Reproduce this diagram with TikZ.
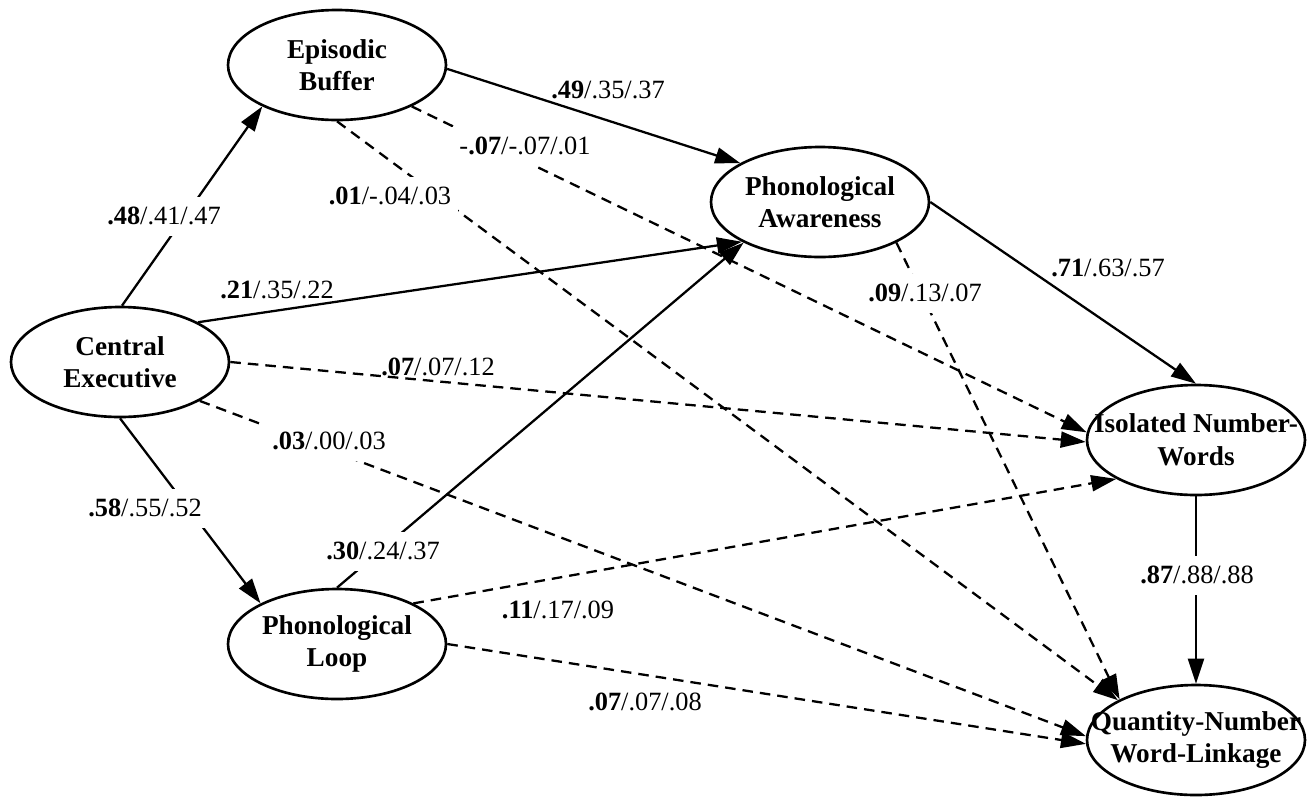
\documentclass[tikz,border=0pt]{standalone}
\usepackage{fontspec}
\setmainfont{Liberation Serif}
\usetikzlibrary{shapes.geometric,arrows.meta}
\begin{document}
\begin{tikzpicture}[x=0.2mm,y=-0.2mm,font=\fontsize{15}{18.5}\selectfont,
    var/.style={ellipse,draw,line width=1.5pt,minimum width=4.36cm,minimum height=2.2cm,inner xsep=-1.5cm,inner ysep=0pt,align=center,font=\fontsize{15.5}{18.5}\selectfont\bfseries},
    eff/.style={line width=1.3pt,-{Triangle[length=5mm,width=3.2mm]}},
    weak/.style={eff,dash pattern=on 6pt off 4pt},
    coef/.style={fill=white,inner xsep=4pt,inner ysep=6pt},
    coefline/.style={inner sep=1pt}]
  \useasboundingbox (0,0) rectangle (1309,796);
  \foreach \n/\x/\y/\t in {eb/337/65/{Episodic\\Buffer},ce/120/362/{Central\\Executive},pa/820/202/{Phonological\\Awareness},pl/337/644/{Phonological\\Loop},inw/1196/440/{Isolated Number-\\Words},qnw/1196/740/{Quantity-Number\\Word-Linkage}}{
    \node [var] (\n) at (\x,\y) {\t};
  }
  \foreach \a/\b/\s in {ce.88/eb.209/eff,ce.270/pl.152/eff,ce.27/pa.207/eff,eb.358/pa.154/eff,pl.90/pa.208/eff,pa.0/inw.90/eff,inw.270/qnw.90/eff,ce.0/inw.181/weak,ce.334/qnw.178/weak,eb.331/inw.176/weak,eb.270/qnw.153/weak,pa.332/qnw.152/weak,pl.28/inw.206/weak,pl.0/qnw.182/weak}{
    \draw[\s] (\a) -- (\b);
  }
  % path coefficients
  \node [coef] (c48) at (164,216) {\textbf{.48}/.41/.47};
  \node [coef] (c58) at (145,508) {\textbf{.58}/.55/.52};
  \node [coefline] (c21) at (277,290) {\textbf{.21}/.35/.22};
  \node [coefline] (c49) at (608,90) {\textbf{.49}/.35/.37};
  \node [coef] (c07a) at (525,146) {-\textbf{.07}/-.07/.01};
  \node [coef] (c01) at (390,196) {\textbf{.01}/-.04/.03};
  \node [coefline] (c07b) at (438,367) {\textbf{.07}/.07/.12};
  \node [coef] (c03) at (329,441) {\textbf{.03}/.00/.03};
  \node [coef] (c30) at (383,551) {\textbf{.30}/.24/.37};
  \node [coefline] (c11) at (558,610) {\textbf{.11}/.17/.09};
  \node [coefline] (c07c) at (645,702) {\textbf{.07}/.07/.08};
  \node [coefline] (c71) at (1108,268) {\textbf{.71}/.63/.57};
  \node [coef] (c09) at (925,293) {\textbf{.09}/.13/.07};
  \node [coef] (c87) at (1197,575) {\textbf{.87}/.88/.88};
\end{tikzpicture}
\end{document}
